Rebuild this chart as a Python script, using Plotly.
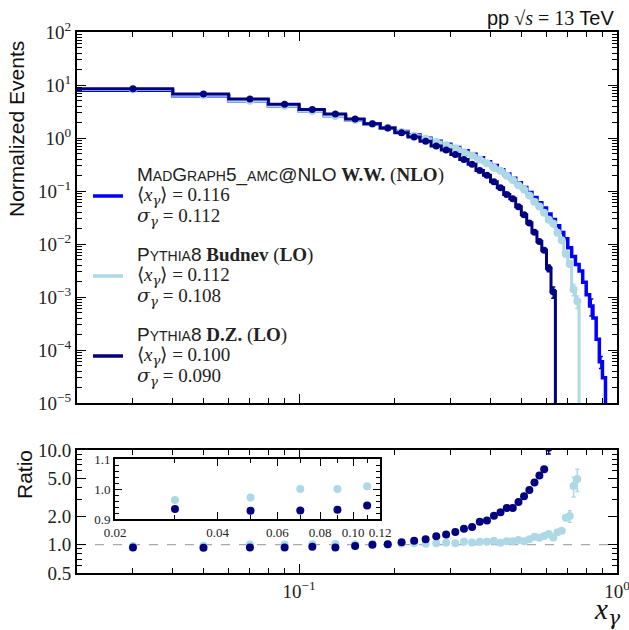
import numpy as np
import plotly.graph_objects as go

# x_gamma histograms: bins of width 0.02 starting at 0.02
BIN_W = 0.02
X_LO = 0.02

# Normalized event yields per bin (bin centres 0.03, 0.05, ...)
mg_vals = [7.93, 6.26, 5.06, 4.05, 3.26, 2.64, 2.20, 1.85, 1.56, 1.33,
           1.14, 0.99, 0.87, 0.76, 0.66, 0.573, 0.493, 0.422, 0.358, 0.302,
           0.253, 0.210, 0.174, 0.143, 0.116, 0.094, 0.0755, 0.0603, 0.0478, 0.037,
           0.029, 0.022, 0.0165, 0.0125, 0.0085, 0.0058, 0.0041, 0.0031, 0.0019, 0.0011,
           0.00068, 0.00040, 0.00016, 0.00006, 0.00003]
budnev_vals = [8.23, 6.44, 5.06, 4.05, 3.23, 2.61, 2.18, 1.83, 1.56, 1.30,
               1.107, 0.971, 0.845, 0.727, 0.641, 0.536, 0.470, 0.394, 0.335, 0.275,
               0.242, 0.194, 0.161, 0.128, 0.107, 0.0825, 0.0624, 0.0511, 0.0389, 0.0287,
               0.0244, 0.0163, 0.0118, 0.00651, 0.00425, 0.00139, 0.00083]
dz_vals = [8.50, 6.75, 5.45, 4.35, 3.45, 2.83, 2.28, 1.86, 1.545, 1.26,
           1.041, 0.868, 0.710, 0.594, 0.487, 0.391, 0.321, 0.2425, 0.199, 0.150,
           0.1155, 0.0861, 0.0716, 0.0507, 0.0357, 0.0249, 0.0167, 0.0112, 0.00762, 0.0035,
           0.00125]

# statistical uncertainties in the sparsely populated tail bins (keyed by bin centre)
mg_err = {0.83: 0.00024, 0.89: 0.000015}
budnev_err = {0.69: 0.0004, 0.71: 0.0006, 0.73: 0.00033, 0.75: 0.00022}
dz_err = {0.61: 0.0005, 0.63: 0.0003}

# legend entries: <x_gamma>, sigma_gamma
mg_stats = ("0.116", "0.112")
bud_stats = ("0.112", "0.108")
dz_stats = ("0.100", "0.090")

C_MG = "#0000ff"
C_BUD = "#add8e6"
C_DZ = "#000080"

SERIF = "Liberation Serif"
SANS = "Liberation Sans"
GREEK = "DejaVu Serif"


def centers(n):
    return np.round(X_LO + BIN_W * (np.arange(n) + 0.5), 2)


def edges(n):
    return np.round(X_LO + BIN_W * np.arange(n + 1), 2)


def step_xy(vals, floor=1e-8):
    e = edges(len(vals))
    x = list(e) + [e[-1]]
    y = list(vals) + [vals[-1], floor]
    return x, y


def err_list(vals, errs):
    return np.array([errs.get(float(c), 0.0) for c in centers(len(vals))])


mg = np.array(mg_vals)
bud = np.array(budnev_vals)
dz = np.array(dz_vals)
e_mg = err_list(mg_vals, mg_err)
e_bud = err_list(budnev_vals, budnev_err)
e_dz = err_list(dz_vals, dz_err)

# ratios MadGraph / Pythia8
r_bud = mg[:len(bud)] / bud
r_dz = mg[:len(dz)] / dz
er_bud = r_bud * np.sqrt((e_mg[:len(bud)] / mg[:len(bud)]) ** 2 + (e_bud / bud) ** 2)
er_dz = r_dz * np.sqrt((e_mg[:len(dz)] / mg[:len(dz)]) ** 2 + (e_dz / dz) ** 2)

fig = go.Figure()

# ---- upper panel: normalized distributions ----
x, y = step_xy(mg_vals)
fig.add_trace(go.Scatter(x=x, y=y, mode="lines", line=dict(color=C_MG, width=3.5, shape="hv"),
                         showlegend=False, xaxis="x", yaxis="y"))
c = centers(len(mg_vals))
sel = e_mg > 0
fig.add_trace(go.Scatter(x=c[sel], y=mg[sel], mode="markers", marker=dict(color=C_MG, size=3),
                         error_y=dict(type="data", array=e_mg[sel], color=C_MG, thickness=1.5, width=2),
                         showlegend=False, xaxis="x", yaxis="y"))

x, y = step_xy(budnev_vals)
fig.add_trace(go.Scatter(x=x, y=y, mode="lines", line=dict(color=C_BUD, width=3, shape="hv"),
                         showlegend=False, xaxis="x", yaxis="y"))
fig.add_trace(go.Scatter(x=centers(len(bud)), y=bud, mode="markers",
                         marker=dict(color=C_BUD, size=8),
                         error_y=dict(type="data", array=e_bud, color=C_BUD, thickness=1.5, width=2),
                         showlegend=False, xaxis="x", yaxis="y"))

x, y = step_xy(dz_vals)
fig.add_trace(go.Scatter(x=x, y=y, mode="lines", line=dict(color=C_DZ, width=3, shape="hv"),
                         showlegend=False, xaxis="x", yaxis="y"))
fig.add_trace(go.Scatter(x=centers(len(dz)), y=dz, mode="markers",
                         marker=dict(color=C_DZ, size=7),
                         error_y=dict(type="data", array=e_dz, color=C_DZ, thickness=1.5, width=2),
                         showlegend=False, xaxis="x", yaxis="y"))

# ---- ratio panel and its zoomed inset ----
for xa, ya in (("x2", "y2"), ("x3", "y3")):
    fig.add_trace(go.Scatter(x=centers(len(bud)), y=r_bud, mode="markers",
                             marker=dict(color=C_BUD, size=8),
                             error_y=dict(type="data", array=er_bud, color=C_BUD, thickness=1.5, width=2),
                             showlegend=False, xaxis=xa, yaxis=ya))
    fig.add_trace(go.Scatter(x=centers(len(dz)), y=r_dz, mode="markers",
                             marker=dict(color=C_DZ, size=8),
                             error_y=dict(type="data", array=er_dz, color=C_DZ, thickness=1.5, width=2),
                             showlegend=False, xaxis=xa, yaxis=ya))

fig.add_shape(type="line", xref="x2 domain", yref="y2", x0=0, x1=1, y0=1, y1=1,
              line=dict(color="#aaaaaa", width=1.2, dash="dash"), layer="below")
fig.add_shape(type="line", xref="x3 domain", yref="y3", x0=0, x1=1, y0=1, y1=1,
              line=dict(color="black", width=1.5, dash="dash"), layer="below")


def minor_log(decades, mults=range(2, 10)):
    return [m * 10.0 ** d for d in decades for m in mults]


frame = dict(showline=True, linewidth=2, linecolor="black", mirror="ticks",
             ticks="inside", ticklen=9, tickwidth=1, tickcolor="black",
             showgrid=False, zeroline=False, automargin=False, ticklabeloverflow="allow")
tickfont = dict(family=SERIF, size=19, color="#222")
inset_font = dict(family=SERIF, size=13, color="#222")

x_minor = [0.02, 0.03, 0.04, 0.05, 0.06, 0.07, 0.08, 0.09,
           0.2, 0.3, 0.4, 0.5, 0.6, 0.7, 0.8, 0.9]
minor_frame = dict(ticks="inside", ticklen=5, tickwidth=1, tickcolor="black", showgrid=False)

PLOT_L, PLOT_R, PLOT_T, PLOT_B = 77, 617, 32, 573
H = PLOT_B - PLOT_T
W = PLOT_R - PLOT_L


def py(p):
    return (PLOT_B - p) / H


def px(p):
    return (p - PLOT_L) / W


fig.update_layout(
    width=629, height=630,
    margin=dict(l=PLOT_L, r=629 - PLOT_R, t=PLOT_T, b=630 - PLOT_B, autoexpand=False),
    paper_bgcolor="white", plot_bgcolor="white",
    showlegend=False,
    xaxis=dict(type="log", range=[np.log10(0.02), 0], domain=[0, 1], anchor="y",
               tickvals=[0.1], showticklabels=False,
               minor=dict(tickvals=x_minor, **minor_frame), **frame),
    yaxis=dict(type="log", range=[-5, 2], domain=[py(403), 1], anchor="x",
               tickvals=[10.0 ** k for k in range(-5, 3)],
               ticktext=[f"10<sup>{k if k >= 0 else '−' + str(-k)}</sup>" for k in range(-5, 3)],
               tickfont=tickfont,
               minor=dict(tickvals=minor_log(range(-5, 2)), **minor_frame), **frame),
    xaxis2=dict(type="log", range=[np.log10(0.02), 0], domain=[0, 1], anchor="y2",
                tickvals=[0.1, 1.0], ticktext=["10<sup>−1</sup>", "10<sup>0</sup>"],
                tickfont=tickfont,
                minor=dict(tickvals=x_minor, **minor_frame), **frame),
    yaxis2=dict(type="log", range=[np.log10(0.5), 1], domain=[0, py(450)], anchor="x2",
                tickvals=[0.5, 1, 2, 5, 10], ticktext=["0.5", "1.0", "2.0", "5.0", "10.0"],
                tickfont=tickfont,
                minor=dict(tickvals=[0.6, 0.7, 0.8, 0.9, 3, 4, 6, 7, 8, 9], **minor_frame), **frame),
    xaxis3=dict(type="log", range=[np.log10(0.02), np.log10(0.12)],
                domain=[px(115), px(380)], anchor="y3",
                tickvals=[0.02, 0.04, 0.06, 0.08, 0.10, 0.12],
                ticktext=["0.02", "0.04", "0.06", "0.08", "0.10", "0.12"],
                tickfont=inset_font, tickangle=0,
                minor=dict(tickvals=[0.03, 0.05, 0.07, 0.09, 0.11], ticks="inside", ticklen=4,
                           tickwidth=1, tickcolor="black", showgrid=False),
                **{**frame, "ticklen": 7}),
    yaxis3=dict(range=[0.9, 1.1], domain=[py(519), py(459)], anchor="x3",
                tickvals=[0.9, 1.0, 1.1], ticktext=["0.9", "1.0", "1.1"],
                tickfont=inset_font,
                minor=dict(tickvals=[0.92, 0.94, 0.96, 0.98, 1.02, 1.04, 1.06, 1.08],
                           ticks="inside", ticklen=4, tickwidth=1, tickcolor="black", showgrid=False),
                **{**frame, "ticklen": 7}),
)


def caps(word_parts):
    # small-caps style: pairs of (text, is_small)
    out = ""
    for t, s in word_parts:
        out += f"<span style='font-size:{14 if s else 19}px'>{t}</span>"
    return f"<span style='font-family:{SANS}'>{out}</span>"


mg_title = caps([("M", 0), ("AD", 1), ("G", 0), ("RAPH", 1), ("5_", 0), ("AMC", 1), ("@NLO", 0)]) \
    + " <b>W.W.</b> (<b>NLO</b>)"
bud_title = caps([("P", 0), ("YTHIA", 1), ("8", 0)]) + " <b>Budnev</b> (<b>LO</b>)"
dz_title = caps([("P", 0), ("YTHIA", 1), ("8", 0)]) + " <b>D.Z.</b> (<b>LO</b>)"

gam = f"<span style='font-family:{GREEK}'><i>γ</i></span>"
sig = f"<span style='font-family:{GREEK}'><i>σ</i></span>"

ann = []
legend_rows = [(mg_title, mg_stats, C_MG, 175), (bud_title, bud_stats, C_BUD, 255),
               (dz_title, dz_stats, C_DZ, 335)]
for title, (mean, width), col, y0 in legend_rows:
    ann.append(dict(text=title, x=px(135), y=py(y0)))
    ann.append(dict(text=f"⟨<i>x</i><sub>{gam}</sub>⟩ = {mean}", x=px(135), y=py(y0 + 21)))
    ann.append(dict(text=f"{sig}<sub>{gam}</sub> = {width}", x=px(135), y=py(y0 + 41)))
    fig.add_shape(type="line", xref="paper", yref="paper", x0=px(93), x1=px(123),
                  y0=py(y0 + 21), y1=py(y0 + 21), line=dict(color=col, width=3.5))
for a in ann:
    a.update(xanchor="left", yanchor="middle", font=dict(family=SERIF, size=19, color="#222"))

ann += [
    dict(text=f"<span style='font-family:{SANS}'>pp</span> √<i>s</i> = 13 "
              f"<span style='font-family:{SANS}'>TeV</span>",
         x=px(616), y=py(18), xanchor="right", yanchor="middle",
         font=dict(family=SERIF, size=20, color="#111")),
    dict(text="Normalized Events", x=px(16), y=py(129), textangle=-90,
         xanchor="center", yanchor="middle", font=dict(family=SANS, size=21, color="#111")),
    dict(text="Ratio", x=px(24), y=py(475), textangle=-90,
         xanchor="center", yanchor="middle", font=dict(family=SANS, size=21, color="#111")),
    dict(text=f"<i>x</i><sub>{gam}</sub>", x=px(607), y=py(611), xanchor="center", yanchor="middle",
         font=dict(family=SERIF, size=29, color="#111")),
]
for a in ann:
    a.update(xref="paper", yref="paper", showarrow=False)
fig.update_layout(annotations=ann)

fig.write_html("out.html")
